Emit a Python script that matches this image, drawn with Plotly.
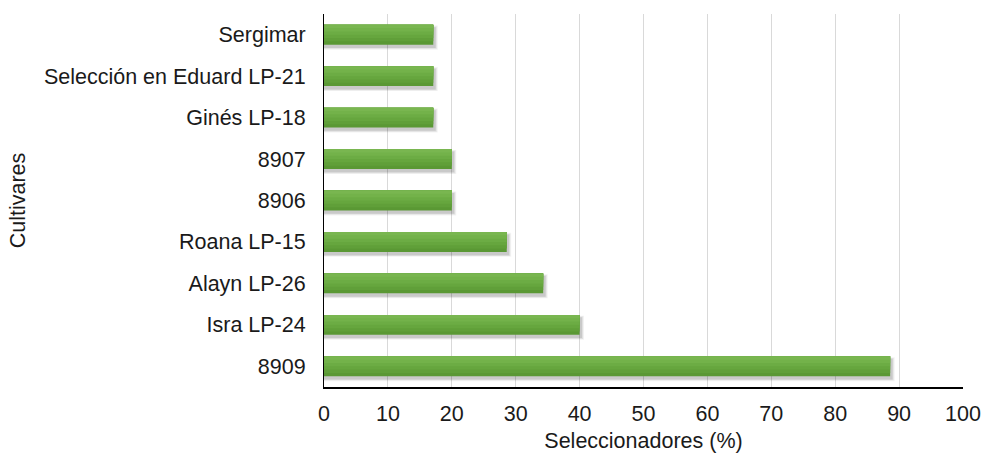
import plotly.graph_objects as go

categories = ["Sergimar", "Selección en Eduard LP-21", "Ginés LP-18", "8907", "8906",
              "Roana LP-15", "Alayn LP-26", "Isra LP-24", "8909"]
values = [17.1, 17.1, 17.1, 20.0, 20.0, 28.6, 34.3, 40.0, 88.6]
x_ticks = [0, 10, 20, 30, 40, 50, 60, 70, 80, 90, 100]

font_family = "Liberation Sans, Arial, sans-serif"
FS = 21.5
bar_w = 0.48

fig = go.Figure()
# soft blurred shadow (a few translucent layers)
for k, (grow, alpha) in enumerate([(0.10, 0.05), (0.06, 0.07), (0.02, 0.10)]):
    fig.add_trace(go.Bar(
        y=categories, x=[v + 0.3 + grow * 4 for v in values], orientation="h",
        width=bar_w + grow, offset=-bar_w / 2 + 0.07 - grow / 2,
        marker=dict(color=f"rgba(0,0,0,{alpha})", line=dict(width=0)),
        hoverinfo="skip", showlegend=False))

# gradient bands, light at top, darker at bottom
bands = ["#5a9834", "#609f39", "#66a63e", "#6cac44", "#73b24a", "#79b650"]
n = len(bands)
for i, col in enumerate(bands):
    frac = 1 - i / n
    fig.add_trace(go.Bar(
        y=categories, x=values, orientation="h",
        width=bar_w * frac, offset=-bar_w / 2,
        marker=dict(color=col, line=dict(width=0)),
        hoverinfo="skip" if i else None, showlegend=False))

fig.update_layout(
    width=983, height=454,
    margin=dict(l=324, r=20, t=14, b=67),
    barmode="overlay",
    plot_bgcolor="white", paper_bgcolor="white",
    font=dict(family=font_family, size=FS, color="#1a1a1a"),
    xaxis=dict(
        range=[0, 100], tickvals=x_ticks, ticktext=[str(t) for t in x_ticks],
        showgrid=True, gridcolor="#d9d9d9", gridwidth=1,
        showline=True, linecolor="black", linewidth=1.5,
        zeroline=False, ticks="", ticklen=0, ticklabelstandoff=6,
        automargin=False,
        title=dict(text="Seleccionadores (%)", font=dict(size=FS), standoff=8),
    ),
    yaxis=dict(
        autorange="reversed", showgrid=False,
        showline=True, linecolor="black", linewidth=1,
        ticks="", ticklabelstandoff=13, automargin=False,
        title=dict(text="Cultivares", font=dict(size=FS), standoff=12),
    ),
)

fig.write_html("out.html")
